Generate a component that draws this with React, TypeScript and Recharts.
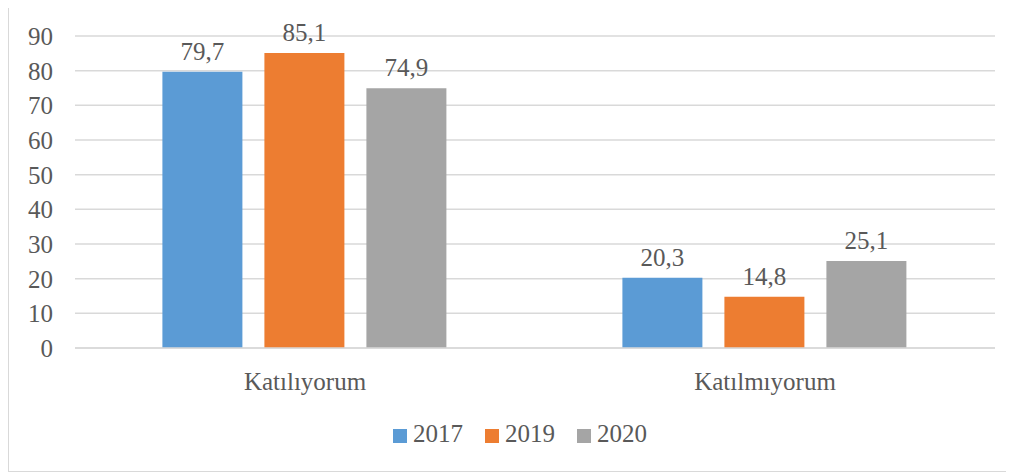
import React from "react";
import { BarChart, Bar, XAxis, YAxis, CartesianGrid, Legend, LabelList } from "recharts";

const categories = ["Katılıyorum", "Katılmıyorum"];
const values2017 = [79.7, 20.3];
const values2019 = [85.1, 14.8];
const values2020 = [74.9, 25.1];
const yTicks = [0, 10, 20, 30, 40, 50, 60, 70, 80, 90];

const data = categories.map((name, i) => ({
  name,
  y2017: values2017[i],
  y2019: values2019[i],
  y2020: values2020[i],
}));

const FONT = "Liberation Serif";
const TEXT = "#595959";
const fmt = (v: any) => String(v).replace(".", ",");
const textStyle = { fontSize: 25, fontFamily: FONT, fill: TEXT };

export default function App() {
  return (
    <div
      style={{
        width: 1005,
        height: 463,
        border: "1px solid #D9D9D9",
        marginTop: -1,
        background: "#fff",
        fontFamily: FONT,
      }}
    >
      <style>{`.recharts-wrapper svg text { font-family: "Liberation Serif"; font-size: 25px; }`}</style>
      <BarChart
        width={1004}
        height={462}
        data={data}
        margin={{ top: 28, right: 18, left: 0, bottom: 34 }}
        barCategoryGap="19%"
        barGap={22}
        style={{ fontFamily: FONT }}
      >
        <CartesianGrid vertical={false} stroke="#D9D9D9" strokeWidth={1.5} />
        <XAxis
          dataKey="name"
          axisLine={{ stroke: "#D9D9D9", strokeWidth: 1.5 }}
          tickLine={false}
          tickSize={0}
          tickMargin={24}
          height={60}
          interval={0}
          tick={textStyle}
        />
        <YAxis
          domain={[0, 90]}
          ticks={yTicks}
          interval={0}
          axisLine={false}
          tickLine={false}
          tickSize={0}
          tickMargin={14}
          width={66}
          tick={{ ...textStyle, dx: -8 }}
        />
        <Legend
          verticalAlign="bottom"
          align="left"
          iconType="square"
          iconSize={14}
          wrapperStyle={{ bottom: 22, left: 384, width: "auto", fontSize: 25, fontFamily: FONT }}
          formatter={(v: any) => (
            <span style={{ color: TEXT, marginLeft: 2, marginRight: 12 }}>{v}</span>
          )}
        />
        <Bar dataKey="y2017" name="2017" fill="#5B9BD5" isAnimationActive={false}>
          <LabelList dataKey="y2017" position="top" offset={12} formatter={fmt} style={textStyle} />
        </Bar>
        <Bar dataKey="y2019" name="2019" fill="#ED7D31" isAnimationActive={false}>
          <LabelList dataKey="y2019" position="top" offset={12} formatter={fmt} style={textStyle} />
        </Bar>
        <Bar dataKey="y2020" name="2020" fill="#A5A5A5" isAnimationActive={false}>
          <LabelList dataKey="y2020" position="top" offset={12} formatter={fmt} style={textStyle} />
        </Bar>
      </BarChart>
    </div>
  );
}
